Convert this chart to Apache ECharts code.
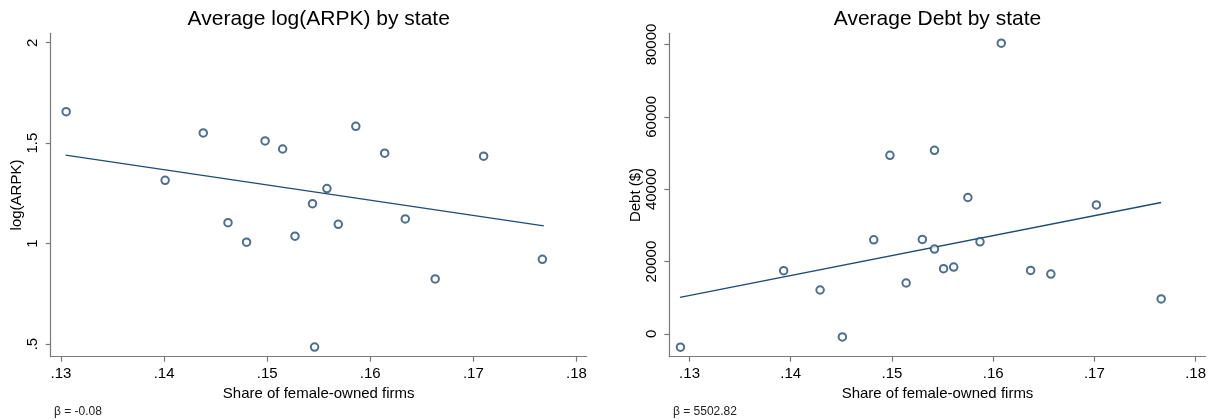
<!DOCTYPE html>
<html>
<head>
<meta charset="utf-8">
<script src="https://cdn.jsdelivr.net/npm/echarts@6/dist/echarts.min.js"></script>
<style>
html,body{margin:0;padding:0;background:#fff;}
#chart{width:1213px;height:420px;}
</style>
</head>
<body>
<div id="chart"></div>
<script>
// ---- Data ----
const titles = ['Average log(ARPK) by state', 'Average Debt by state'];
const xAxisName = 'Share of female-owned firms';
const yAxisNames = ['log(ARPK)', 'Debt ($)'];
const betaNotes = ['\u03B2 = -0.08', '\u03B2 = 5502.82'];

const xTicks = [0.13, 0.14, 0.15, 0.16, 0.17, 0.18];
const yTicksArpk = [0.5, 1, 1.5, 2];
const yTicksDebt = [0, 20000, 40000, 60000, 80000];

// Left panel: share of female-owned firms vs average log(ARPK)
const shareA = [0.1305, 0.1401, 0.1438, 0.1498, 0.1515, 0.1586, 0.1614, 0.1710, 0.1558,
                0.1544, 0.1462, 0.1480, 0.1527, 0.1569, 0.1634, 0.1767, 0.1663, 0.1546];
const arpk   = [1.657, 1.315, 1.551, 1.511, 1.471, 1.584, 1.450, 1.435, 1.274,
                1.199, 1.104, 1.007, 1.037, 1.096, 1.123, 0.922, 0.824, 0.485];
const fitA_x = [0.13045, 0.17684];
const fitA_y = [1.440, 1.088];

// Right panel: share of female-owned firms vs average debt
const shareB = [0.1608, 0.1498, 0.1542, 0.1575, 0.1702, 0.1482, 0.1530, 0.1542, 0.1587, 0.1393,
                0.1429, 0.1451, 0.1291, 0.1514, 0.1551, 0.1561, 0.1637, 0.1657, 0.1766];
const debt   = [80360, 49380, 50760, 37710, 35670, 26010, 26120, 23450, 25470, 17470,
                12140, -830, -3680, 14070, 18020, 18480, 17560, 16550, 9660];
const fitB_x = [0.12905, 0.1766];
const fitB_y = [10120, 36330];

// ---- Styling ----
const FONT = '"Liberation Sans", Arial, sans-serif';
const NAVY = '#1f4b75';
const AXIS = '#7a7a7a';

function zip(a, b) { return a.map((v, i) => [v, b[i]]); }
function fmtShare(v) { return v.toFixed(2).replace(/^0/, ''); }
function fmtY(v) { return String(v).replace(/^0\./, '.'); }

const grids = [
  { left: 50.7, top: 33.3, width: 536, height: 323.4 },
  { left: 669.3, top: 33.3, width: 536.4, height: 323.4 }
];

function xAxisCfg(gi, min, max) {
  return {
    type: 'value', gridIndex: gi, min: min, max: max,
    name: xAxisName, nameLocation: 'middle', nameGap: 27,
    nameTextStyle: { fontFamily: FONT, fontSize: 15, color: '#000' },
    axisLine: { show: true, onZero: false, lineStyle: { color: AXIS, width: 1.2 } },
    axisTick: { show: true, length: 5, customValues: xTicks, lineStyle: { color: AXIS, width: 1.2 } },
    axisLabel: { show: true, customValues: xTicks, margin: 10, formatter: fmtShare,
                 fontFamily: FONT, fontSize: 15, color: '#000' },
    splitLine: { show: false }
  };
}
function yAxisCfg(gi, min, max, ticks, name) {
  return {
    type: 'value', gridIndex: gi, min: min, max: max,
    name: name, nameLocation: 'middle', nameGap: 25,
    nameTextStyle: { fontFamily: FONT, fontSize: 15, color: '#000' },
    axisLine: { show: true, onZero: false, lineStyle: { color: AXIS, width: 1.2 } },
    axisTick: { show: true, length: 5, customValues: ticks, lineStyle: { color: AXIS, width: 1.2 } },
    axisLabel: { show: true, customValues: ticks, rotate: 90, margin: 10, formatter: fmtY,
                 fontFamily: FONT, fontSize: 15, color: '#000' },
    splitLine: { show: false }
  };
}

function scatter(xi, x, y) {
  return {
    type: 'scatter', xAxisIndex: xi, yAxisIndex: xi,
    data: zip(x, y), symbol: 'emptyCircle', symbolSize: 7.5,
    itemStyle: { color: NAVY, borderColor: NAVY, borderWidth: 1.15 },
    emphasis: { disabled: true }, silent: true, z: 3
  };
}
function fit(xi, x, y) {
  return {
    type: 'line', xAxisIndex: xi, yAxisIndex: xi,
    data: zip(x, y), showSymbol: false, symbol: 'none',
    lineStyle: { color: NAVY, width: 1.3 },
    emphasis: { disabled: true }, silent: true, z: 2
  };
}

const chart = echarts.init(document.getElementById('chart'), null, { renderer: 'canvas' });
chart.setOption({
  animation: false,
  backgroundColor: '#fff',
  grid: grids,
  xAxis: [xAxisCfg(0, 0.129, 0.181), xAxisCfg(1, 0.128, 0.181)],
  yAxis: [yAxisCfg(0, 0.437, 2.047, yTicksArpk, yAxisNames[0]),
          yAxisCfg(1, -6300, 83100, yTicksDebt, yAxisNames[1])],
  series: [
    fit(0, fitA_x, fitA_y), scatter(0, shareA, arpk),
    fit(1, fitB_x, fitB_y), scatter(1, shareB, debt)
  ],
  graphic: [
    { type: 'text', x: 318.7, y: 19.5, style: { text: titles[0], font: '21px ' + FONT, fill: '#000', align: 'center', verticalAlign: 'middle' } },
    { type: 'text', x: 937.5, y: 19.5, style: { text: titles[1], font: '21px ' + FONT, fill: '#000', align: 'center', verticalAlign: 'middle' } },
    { type: 'text', x: 54, y: 411.5, style: { text: betaNotes[0], font: '12px ' + FONT, fill: '#222', align: 'left', verticalAlign: 'middle' } },
    { type: 'text', x: 673, y: 411.5, style: { text: betaNotes[1], font: '12px ' + FONT, fill: '#222', align: 'left', verticalAlign: 'middle' } }
  ]
});
</script>
</body>
</html>
